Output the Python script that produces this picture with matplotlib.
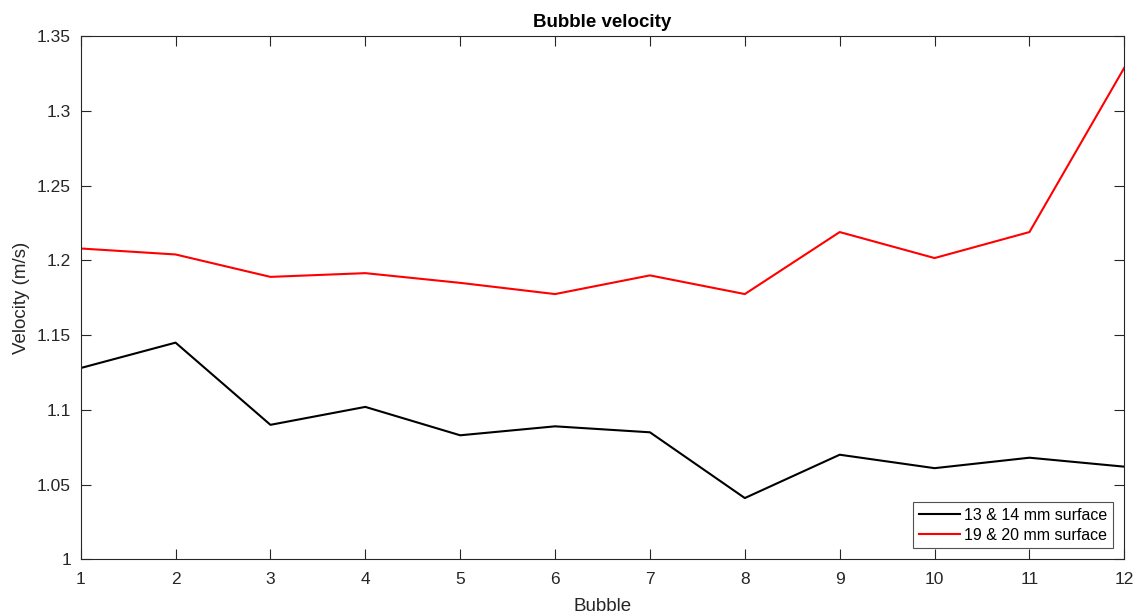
import numpy as np
import matplotlib.pyplot as plt

plt.rcParams['font.family'] = ['Liberation Sans', 'DejaVu Sans']

# Bubble index and measured velocities (m/s)
bubble = [1, 2, 3, 4, 5, 6, 7, 8, 9, 10, 11, 12]
vel_13_14 = [1.128, 1.145, 1.090, 1.102, 1.083, 1.089, 1.085, 1.041, 1.070, 1.061, 1.068, 1.062]
vel_19_20 = [1.208, 1.204, 1.189, 1.1915, 1.185, 1.1775, 1.190, 1.1775, 1.219, 1.2016, 1.219, 1.329]
labels = ['13 & 14 mm surface', '19 & 20 mm surface']

axis_gray = '0.15'

fig = plt.figure(figsize=(11.41, 6.16), dpi=100)
ax = fig.add_axes([0.0707, 0.0920, 0.9147, 0.8491])

ax.plot(bubble, vel_13_14, color='black', linewidth=1.5, label=labels[0])
ax.plot(bubble, vel_19_20, color='red', linewidth=1.5, label=labels[1])

ax.set_xlim(1, 12)
ax.set_ylim(1, 1.35)
ax.set_xticks(bubble)
yt = [1, 1.05, 1.1, 1.15, 1.2, 1.25, 1.3, 1.35]
ax.set_yticks(yt)
ax.set_yticklabels(['1', '1.05', '1.1', '1.15', '1.2', '1.25', '1.3', '1.35'])

ax.tick_params(direction='in', length=7, width=0.8, top=True, right=True,
               labelsize=12.5, colors=axis_gray, labelcolor=axis_gray)
ax.tick_params(axis='x', pad=9)
ax.tick_params(axis='y', pad=7)
for s in ax.spines.values():
    s.set_color(axis_gray)
    s.set_linewidth(0.8)

ax.set_xlabel('Bubble', fontsize=13.5, color=axis_gray, labelpad=8)
ax.set_ylabel('Velocity (m/s)', fontsize=13.5, color=axis_gray, labelpad=5)
ax.set_title('Bubble velocity', fontsize=13.5, fontweight='bold', pad=7)

leg = ax.legend(loc='lower right', fontsize=11.5, frameon=True, fancybox=False,
                edgecolor=axis_gray, handlelength=2.6, borderpad=0.35,
                labelspacing=0.3, handletextpad=0.25, borderaxespad=0.7)
leg.get_frame().set_linewidth(0.8)

fig.savefig('out.png', dpi=100)
